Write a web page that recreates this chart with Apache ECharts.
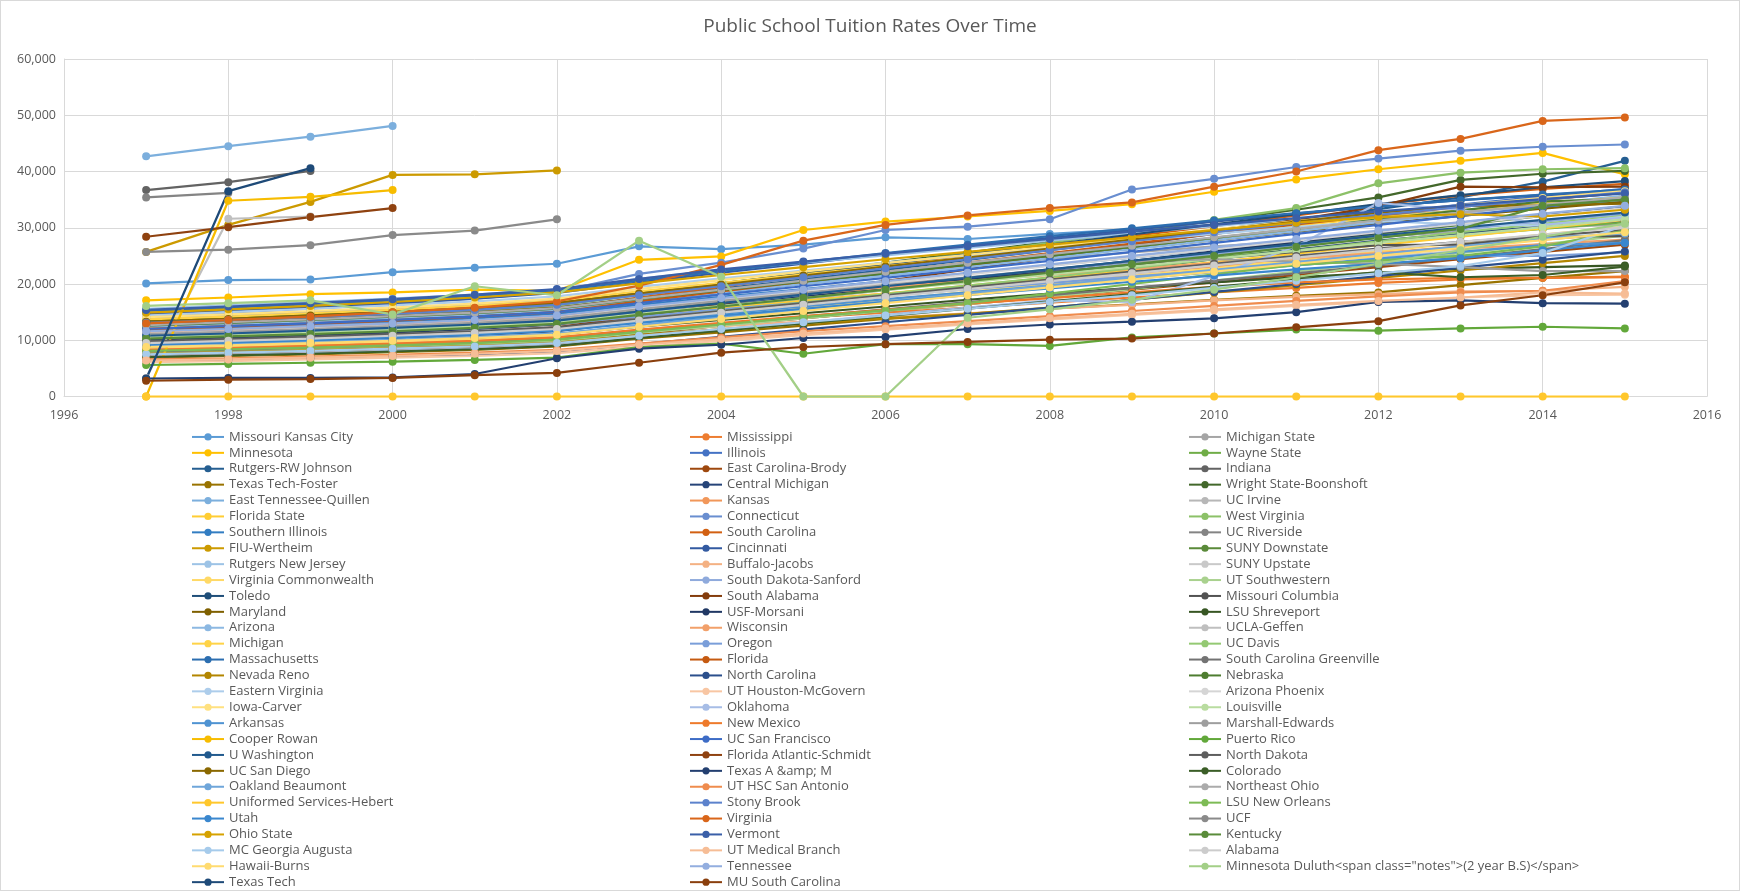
<!DOCTYPE html>
<html>
<head>
<meta charset="utf-8">
<title>Public School Tuition Rates Over Time</title>
<script src="https://cdn.jsdelivr.net/npm/echarts@6/dist/echarts.min.js"></script>
<style>
  html, body { margin: 0; padding: 0; background: #fff; }
  #chart { width: 1740px; height: 891px; box-sizing: border-box; border: 1px solid #d9d9d9; }
</style>
</head>
<body>
<div id="chart"></div>
<script>
var years = [1997, 1998, 1999, 2000, 2001, 2002, 2003, 2004, 2005, 2006, 2007, 2008, 2009, 2010, 2011, 2012, 2013, 2014, 2015];

var schools = [
	'Missouri Kansas City', 'Mississippi', 'Michigan State',
	'Minnesota', 'Illinois', 'Wayne State',
	'Rutgers-RW Johnson', 'East Carolina-Brody', 'Indiana',
	'Texas Tech-Foster', 'Central Michigan', 'Wright State-Boonshoft',
	'East Tennessee-Quillen', 'Kansas', 'UC Irvine',
	'Florida State', 'Connecticut', 'West Virginia',
	'Southern Illinois', 'South Carolina', 'UC Riverside',
	'FIU-Wertheim', 'Cincinnati', 'SUNY Downstate',
	'Rutgers New Jersey', 'Buffalo-Jacobs', 'SUNY Upstate',
	'Virginia Commonwealth', 'South Dakota-Sanford', 'UT Southwestern',
	'Toledo', 'South Alabama', 'Missouri Columbia',
	'Maryland', 'USF-Morsani', 'LSU Shreveport',
	'Arizona', 'Wisconsin', 'UCLA-Geffen',
	'Michigan', 'Oregon', 'UC Davis',
	'Massachusetts', 'Florida', 'South Carolina Greenville',
	'Nevada Reno', 'North Carolina', 'Nebraska',
	'Eastern Virginia', 'UT Houston-McGovern', 'Arizona Phoenix',
	'Iowa-Carver', 'Oklahoma', 'Louisville',
	'Arkansas', 'New Mexico', 'Marshall-Edwards',
	'Cooper Rowan', 'UC San Francisco', 'Puerto Rico',
	'U Washington', 'Florida Atlantic-Schmidt', 'North Dakota',
	'UC San Diego', 'Texas A &amp; M', 'Colorado',
	'Oakland Beaumont', 'UT HSC San Antonio', 'Northeast Ohio',
	'Uniformed Services-Hebert', 'Stony Brook', 'LSU New Orleans',
	'Utah', 'Virginia', 'UCF',
	'Ohio State', 'Vermont', 'Kentucky',
	'MC Georgia Augusta', 'UT Medical Branch', 'Alabama',
	'Hawaii-Burns', 'Tennessee', 'Minnesota Duluth<span class="notes">(2 year B.S)</span>',
	'Texas Tech', 'MU South Carolina'
];

// one row per school, 1997..2015, null = no figure that year
var tuition = [
	[20100, 20700, 20800, 22100, 22900, 23600, 26700, 26200, 27000, 28300, 28000, 28900, 29700, 30500, 31300, 32200, 33000, 33800, 34600],
	[8200, 8500, 8900, 9300, 9800, 10400, 11700, 12900, 14000, 14900, 15800, 16700, 17600, 18500, 19300, 20200, 20800, 21100, 21300],
	[13900, 14400, 15000, 15600, 16300, 17100, 18600, 19900, 21000, 22200, 23400, 24500, 25600, 26700, 27600, 28400, 29300, 30000, 30600],
	[17100, 17600, 18200, 18500, 19000, 18800, 24300, 24900, 29600, 31100, 32000, 33000, 34200, 36400, 38600, 40400, 41900, 43300, 39500],
	[12100, 12600, 13200, 13800, 14400, 15200, 16900, 18400, 20000, 21700, 23300, 25100, 27000, 28900, 30600, 32400, 34100, 35600, 36900],
	[11000, 11400, 11900, 12500, 13100, 13900, 15300, 16600, 17900, 19300, 20600, 22000, 23300, 24700, 26100, 27400, 28600, 29800, 31000],
	[12600, 13100, 13600, 14200, 14900, 15800, 17500, 19200, 20800, 22500, 24300, 26000, 27800, 29600, 31400, 33300, 35400, 38200, 41900],
	[7300, 7600, 8000, 8400, 8800, 9400, 11100, 12600, 13900, 15200, 16400, 17700, 19000, 20300, 21600, 23000, 24400, 25700, 27000],
	[36700, 38100, 40100, null, null, null, null, null, null, null, null, null, null, null, null, null, null, null, null],
	[6900, 7200, 7500, 7900, 8300, 8900, 10300, 11400, 12600, 13800, 14700, 15600, 16400, 17200, 17900, 18500, 19800, 21100, 22300],
	[9100, 9400, 9800, 10300, 10900, 11600, 13300, 14800, 16200, 17800, 19400, 21000, 22700, 24400, 26100, 27700, 29000, 30200, 31300],
	[13500, 14000, 14600, 15200, 15900, 16800, 18500, 20100, 21900, 23800, 25600, 27500, 29400, 31200, 33200, 35400, 38500, 39600, 40100],
	[42700, 44500, 46200, 48100, null, null, null, null, null, null, null, null, null, null, null, null, null, null, null],
	[10500, 10900, 11300, 11800, 12400, 13100, 14600, 15900, 17100, 18300, 19500, 20700, 21900, 23100, 24300, 25500, 26700, 27900, 29000],
	[9700, 10100, 10500, 11000, 11600, 12300, 14100, 15700, 17300, 18900, 20500, 22100, 23700, 25300, 26800, 28300, 29800, 31200, 32500],
	[10200, 10600, 11000, 11500, 12100, 12800, 14300, 15700, 17000, 18300, 19700, 21100, 22500, 23900, 25400, 26900, 28400, 29900, 31400],
	[14200, 14900, 15600, 16400, 17400, 18600, 21800, 23800, 26300, 29600, 30200, 31500, 36800, 38700, 40800, 42300, 43700, 44400, 44800],
	[12900, 13400, 14000, 14600, 15300, 16200, 18000, 19800, 21600, 23500, 25400, 27300, 29300, 31400, 33500, 37900, 39800, 40400, 40600],
	[11700, 12200, 12700, 13300, 13900, 14700, 16300, 17700, 19100, 20500, 21900, 23300, 24700, 26200, 27700, 29200, 30900, 32400, 33800],
	[12300, 12800, 13400, 14000, 14700, 15600, 17600, 19500, 21500, 23400, 25100, 26800, 28500, 30300, 32200, 34100, 35700, 36900, 37800],
	[35400, 36200, null, null, null, null, null, null, null, null, null, null, null, null, null, null, null, null, null],
	[25700, 30500, 34600, 39400, 39500, 40200, null, null, null, null, null, null, null, null, null, null, null, null, null],
	[14700, 15300, 15900, 16600, 17400, 18400, 20300, 22000, 23600, 25300, 26800, 28200, 29600, 31100, 32500, 33800, 34900, 35800, 36600],
	[10800, 11200, 11700, 12200, 12800, 13600, 15200, 16700, 18100, 19600, 21000, 22500, 24000, 25600, 27200, 28900, 30500, 32100, 33400],
	[15600, 16200, 16800, 17400, 18100, 19000, 20900, 22500, 23800, 25100, 26400, 27700, 29000, 30300, 31600, 32700, 33900, 35000, 36200],
	[8500, 8800, 9100, 9500, 9900, 10500, 11600, 12500, 13300, 14000, 14800, 15600, 16300, 17100, 17700, 18200, 18700, 18800, 19500],
	[9900, 10300, 10700, 11200, 11700, 12400, 13900, 15300, 16600, 17900, 19100, 20300, 21500, 22700, 23800, 24800, 25900, 26800, 27600],
	[8700, 9000, 9400, 9800, 10300, 10900, 12500, 14100, 15700, 17200, 18600, 20000, 21400, 22800, 24300, 25800, 27300, 28800, 30200],
	[10900, 11300, 11700, 12200, 12800, 13500, 15000, 16400, 17900, 19400, 20800, 22300, 23800, 25300, 26800, 28300, 29700, 31100, 32400],
	[7800, 8100, 8400, 8800, 9300, 9900, 11300, 12600, 13900, 15200, 16400, 17700, 19100, 20600, 22200, 23900, 25500, 27100, 28600],
	[13200, 13700, 14300, 14900, 15600, 16500, 18300, 20100, 21800, 23500, 25300, 27000, 28800, 30600, 32400, 34200, 35800, 37200, 38300],
	[9600, 10000, 10400, 10900, 11500, 12300, 14300, 16400, 18500, 20500, 22600, 24700, 26900, 29100, 31400, 33800, 37300, 37200, 37300],
	[11300, 11700, 12200, 12700, 13300, 14100, 15600, 17000, 18300, 19600, 20900, 22100, 23300, 24500, 25700, 26900, 27000, 28400, 28500],
	[12800, 13300, 13800, 14400, 15000, 15800, 17400, 18900, 20400, 21900, 23300, 24800, 26300, 27800, 29300, 30700, 32100, 33400, 34600],
	[10100, 10500, 10900, 11400, 12000, 12800, 14500, 16100, 17700, 19300, 20900, 22500, 24100, 25800, 27500, 29100, 30700, 32200, 33600],
	[8900, 9200, 9600, 10000, 10500, 11100, 12400, 13600, 14800, 16000, 17200, 18300, 19300, 20300, 21200, 22000, 22700, 23000, 23300],
	[12400, 12900, 13400, 14000, 14600, 15400, 17000, 18500, 20000, 21500, 23000, 24600, 26200, 27800, 29400, 31000, 32600, 34200, 35700],
	[11500, 11900, 12400, 12900, 13500, 14300, 15700, 17000, 18200, 19400, 20500, 21600, 22700, 23700, 24600, 25500, 26300, 27100, 27900],
	[3300, 31600, 32000, null, null, null, null, null, null, null, null, null, null, null, null, null, null, null, null],
	[13700, 14200, 14800, 15400, 16100, 17000, 18700, 20200, 21700, 23200, 24700, 26200, 27600, 29000, 30400, 31800, 33100, 34300, 35400],
	[10400, 10800, 11200, 11700, 12200, 12900, 14200, 15500, 16700, 17900, 19100, 20200, 21300, 22400, 23400, 24300, 25000, 25000, 25600],
	[9400, 9800, 10200, 10700, 11300, 12000, 13700, 15200, 16700, 18200, 19700, 21200, 22800, 24400, 26000, 27600, 29200, 30700, 32100],
	[15200, 15800, 16400, 17100, 17900, 18800, 20600, 22300, 23900, 25500, 27000, 28500, 29900, 31300, 32600, 33800, 34900, 35900, 36800],
	[11900, 12400, 12900, 13500, 14200, 15000, 16900, 18700, 20400, 22100, 23800, 25500, 27200, 28900, 30600, 32200, 33700, 35000, 36200],
	[8000, 8300, 8700, 9100, 9600, 10200, 11600, 12900, 14200, 15500, 16800, 18000, 19300, 20600, 21900, 23300, 24700, 26200, 27800],
	[7600, 7900, 8200, 8600, 9000, 9600, 10900, 12000, 13000, 13900, 14700, 15800, 17200, 18500, 19800, 21100, 22400, 23700, 25000],
	[6300, 6500, 6800, 7100, 7500, 8000, 9300, 10600, 11900, 13200, 14500, 15800, 17200, 18600, 20000, 21400, 22900, 24300, 25800],
	[12600, 13100, 13600, 14200, 14800, 15600, 17300, 18900, 20400, 21900, 23500, 25000, 26600, 28200, 29800, 31500, 33100, 34700, 35100],
	[14400, 15000, 15600, 16200, 16900, 17800, 19500, 21000, 22400, 23800, 25100, 26400, 27700, 28900, 30100, 31200, 30600, 30400, 32000],
	[6100, 6300, 6600, 6900, 7200, 7700, 8800, 9900, 10900, 11900, 12800, 13700, 14500, 15300, 16100, 16800, 17600, 18000, 18100],
	[11200, 11600, 12100, 12600, 13200, 14000, 15700, 17200, 18700, 20200, 21700, 23200, 24700, 26200, 27700, 29200, 30700, 32100, 33500],
	[14100, 14600, 15200, 15800, 16500, 17400, 19100, 20700, 22200, 23700, 25200, 26700, 28200, 29700, 31200, 32600, 34000, 35300, 36500],
	[7100, 7400, 7700, 8100, 8500, 9100, 10500, 11900, 13200, 14500, 15800, 17100, 16800, 21400, 26700, 34400, 33200, 30500, 31800],
	[10600, 11000, 11400, 11900, 12500, 13200, 14700, 16100, 17500, 18900, 20300, 21700, 23100, 24500, 25900, 27300, 28700, 30100, 31500],
	[9300, 9700, 10100, 10600, 11100, 11800, 13300, 14700, 16000, 17300, 18500, 19700, 20900, 22100, 23300, 24500, 25700, 26900, 27300],
	[8300, 8600, 9000, 9400, 9900, 10500, 11900, 13100, 14300, 15400, 16500, 17500, 18500, 19500, 20300, 20800, 21100, 21100, 21200],
	[11100, 11500, 12000, 12500, 13100, 13900, 15500, 17000, 18400, 19800, 21200, 22600, 24000, 24400, 24000, 23600, 23000, 22300, 22300],
	[0, 34800, 35500, 36700, null, null, null, null, null, null, null, null, null, null, null, null, null, null, null],
	[12000, 12500, 13000, 13600, 14200, 15000, 16600, 18100, 19600, 21100, 22600, 24100, 25700, 27300, 28900, 30500, 32100, 33700, 35200],
	[5600, 5800, 6000, 6200, 6500, 6900, 8800, 9400, 7600, 9300, 9300, 9000, 10500, 11200, 11900, 11700, 12100, 12400, 12100],
	[10800, 11200, 11700, 12200, 12800, 13500, 15100, 16600, 18100, 19600, 21100, 22600, 24100, 25600, 27100, 28600, 30000, 31400, 32700],
	[28400, 30100, 31900, 33500, null, null, null, null, null, null, null, null, null, null, null, null, null, null, null],
	[9800, 10200, 10600, 11100, 11600, 12300, 13800, 15200, 16600, 18000, 19400, 20800, 22200, 23600, 25000, 26300, 27500, 28500, 29600],
	[13300, 13800, 14400, 15000, 15700, 16600, 18300, 19900, 21500, 23100, 24700, 26300, 27900, 29500, 31100, 32700, 33900, 34000, 34300],
	[3200, 3300, 3300, 3400, 4000, 6800, 8500, 9200, 10400, 10600, 12000, 12800, 13300, 13900, 15000, 16800, 17100, 16600, 16500],
	[7000, 7300, 7600, 8000, 8400, 9000, 10400, 11700, 13000, 14300, 15600, 16900, 18200, 19500, 20800, 22100, 21200, 21600, 23100],
	[9000, 9300, 9700, 10100, 10600, 11200, 12700, 14100, 15500, 16900, 18300, 19700, 21100, 22500, 23900, 25300, 26700, 28100, 29000],
	[6600, 6800, 7100, 7400, 7800, 8300, 9400, 10500, 11600, 12500, 13400, 14300, 15200, 16100, 17000, 17800, 18500, 18800, 20500],
	[12700, 13200, 13700, 14300, 14900, 15700, 17400, 19000, 20600, 22200, 23800, 25300, 26800, 28300, 29800, 31300, 32700, 34100, 35400],
	[0, 0, 0, 0, 0, 0, 0, 0, 0, 0, 0, 0, 0, 0, 0, 0, 0, 0, 0],
	[13100, 13600, 14100, 14700, 15400, 16300, 18000, 19600, 21200, 22800, 24400, 26000, 27600, 29200, 30800, 32300, 33700, 35000, 36300],
	[8100, 8400, 8700, 9100, 9500, 10100, 11500, 12800, 14100, 15300, 16600, 18300, 20000, 21700, 23400, 24200, 25000, 26700, 29500],
	[9200, 9600, 10000, 10500, 11000, 11700, 13100, 14400, 15600, 16800, 18000, 19200, 20400, 21500, 22600, 23600, 24600, 26000, 27300],
	[13000, 13600, 14200, 15000, 15800, 16900, 19700, 23400, 27700, 30500, 32200, 33500, 34500, 37300, 40000, 43800, 45800, 49000, 49600],
	[25700, 26100, 26900, 28700, 29500, 31500, null, null, null, null, null, null, null, null, null, null, null, null, null],
	[14900, 15500, 16100, 16800, 17600, 18500, 20100, 21600, 23000, 24400, 25700, 27000, 28300, 29600, 30900, 31900, 32400, 32000, 33200],
	[15400, 16000, 16600, 17300, 18100, 19100, 20900, 22600, 24000, 25400, 26700, 28000, 29300, 30500, 31700, 32900, 34000, 35100, 36100],
	[10300, 10700, 11100, 11600, 12200, 12900, 14500, 16000, 17500, 19000, 20500, 22000, 23500, 25000, 26600, 28200, 29800, 33900, 35000],
	[7500, 7800, 8100, 8500, 8900, 9500, 10800, 12000, 13200, 14400, 15600, 16800, 18000, 19300, 20600, 21900, 23200, 25500, 30400],
	[6400, 6600, 6900, 7200, 7600, 8100, 9200, 10200, 11200, 12100, 13000, 13900, 14700, 15500, 16300, 17000, 17600, 18500, 18300],
	[9500, 9900, 10300, 10800, 11300, 12000, 13500, 14900, 16300, 17700, 19100, 20500, 21900, 23300, 24700, 26100, 27500, 28800, 30100],
	[8800, 9100, 9500, 9900, 10400, 11000, 12400, 13800, 15200, 16600, 18000, 19400, 20800, 22200, 23600, 25000, 26400, 27800, 29200],
	[11600, 12000, 12500, 13000, 13600, 14400, 16000, 17500, 19000, 20500, 22000, 23500, 25000, 26500, 28000, 29500, 31000, 32500, 33900],
	[16100, 16600, 17100, 14600, 19600, 18000, 27700, 21300, 0, 0, 14000, 15500, 17200, 19000, 21200, 23600, 26000, 28400, 30700],
	[3100, 36500, 40600, null, null, null, null, null, null, null, null, null, null, null, null, null, null, null, null],
	[2800, 3000, 3100, 3300, 3800, 4200, 6000, 7800, 8800, 9300, 9700, 10100, 10300, 11200, 12300, 13400, 16200, 18000, 20300]
];

var colors = [
	'#5B9BD5', '#ED7D31', '#A5A5A5', '#FFC000', '#4472C4', '#70AD47',
	'#255E91', '#9E480E', '#636363', '#997300', '#264478', '#43682B',
	'#7CAFDD', '#F1975A', '#B7B7B7', '#FFCD33', '#698ED0', '#8CC168',
	'#327DC2', '#D26012', '#848484', '#CC9A00', '#335AA1', '#5A8A39',
	'#9DC3E6', '#F4B183', '#C9C9C9', '#FFD966', '#8FAADC', '#A9D18E',
	'#1F4E79', '#843C0C', '#525252', '#7F6000', '#203864', '#375623',
	'#8CB8E2', '#F2A06A', '#BFBFBF', '#FFD347', '#7A9ED9', '#94C973',
	'#2C6EB0', '#C55A11', '#737373', '#B38600', '#2B4F8C', '#4E7D30',
	'#ADCDEB', '#F8C6A3', '#D5D5D5', '#FFE180', '#A7BDE6', '#B9DCA0',
	'#4F93D2', '#EE7A2B', '#9E9E9E', '#F7BC00', '#3D6CC6', '#62A83A',
	'#215A8E', '#8F4210', '#5E5E5E', '#8A6800', '#233F70', '#3B5E27',
	'#6FA6DA', '#EF8C4E', '#ABABAB', '#FFC72C', '#5C82CC', '#7DBB55',
	'#3A87CE', '#D9661A', '#8A8A8A', '#D6A200', '#3A5FA8', '#5A8C3A',
	'#A6CBEB', '#F6BD96', '#CCCCCC', '#FFDB70', '#93AEDF', '#A3CF87',
	'#1E4A78', '#8A3F0D'
];

var legendLeft = [190, 688, 1187];

var FONT = '"Open Sans", "Noto Sans", sans-serif';
var TEXT_COLOR = '#595959';
var GRID_COLOR = '#d9d9d9';

function pairUp(row) {
	var out = [];
	for (var i = 0; i < years.length; i++) {
		out.push([years[i], row[i] === null ? '-' : row[i]]);
	}
	return out;
}

function thousand(val) {
	return String(val).replace(/\B(?=(\d{3})+(?!\d))/g, ',');
}

function plainYear(val) {
	return String(val);
}

function buildSeries() {
	var list = [];
	for (var i = 0; i < schools.length; i++) {
		list.push({
			name: schools[i],
			type: 'line',
			data: pairUp(tuition[i]),
			symbol: 'circle',
			symbolSize: 8,
			showSymbol: true,
			connectNulls: false,
			itemStyle: { color: colors[i] },
			lineStyle: { color: colors[i], width: 2.25 },
			emphasis: { disabled: true }
		});
	}
	return list;
}

// excel lists the legend row by row, so column c holds every third school
function buildLegends() {
	var legends = [];
	for (var c = 0; c < 3; c++) {
		var names = [];
		for (var i = c; i < schools.length; i += 3) {
			names.push(schools[i]);
		}
		legends.push({
			data: names,
			orient: 'vertical',
			left: legendLeft[c],
			top: 428,
			height: 470,
			padding: 0,
			itemWidth: 32,
			itemHeight: 9,
			itemGap: 0,
			selectedMode: false,
			textStyle: { color: TEXT_COLOR, fontSize: 13, fontFamily: FONT, lineHeight: 15.9 }
		});
	}
	return legends;
}

var chart = echarts.init(document.getElementById('chart'), null, { renderer: 'canvas' });

chart.setOption({
	animation: false,
	backgroundColor: '#ffffff',
	title: {
		text: 'Public School Tuition Rates Over Time',
		left: 'center',
		top: 11,
		textStyle: { color: TEXT_COLOR, fontSize: 19, fontWeight: 'normal', fontFamily: FONT }
	},
	legend: buildLegends(),
	grid: { left: 63, right: 32, top: 58, bottom: 493.5, containLabel: false },
	xAxis: {
		type: 'value',
		min: 1996,
		max: 2016,
		interval: 2,
		axisLine: { show: true, lineStyle: { color: GRID_COLOR } },
		axisTick: { show: false },
		axisLabel: { color: TEXT_COLOR, fontSize: 12.5, fontFamily: FONT, margin: 12, formatter: plainYear },
		splitLine: { show: true, lineStyle: { color: GRID_COLOR, width: 1 } }
	},
	yAxis: {
		type: 'value',
		min: 0,
		max: 60000,
		interval: 10000,
		axisLine: { show: true, lineStyle: { color: GRID_COLOR } },
		axisTick: { show: false },
		axisLabel: { color: TEXT_COLOR, fontSize: 12.5, fontFamily: FONT, margin: 8, formatter: thousand },
		splitLine: { show: true, lineStyle: { color: GRID_COLOR, width: 1 } }
	},
	tooltip: { show: false },
	series: buildSeries()
});
</script>
</body>
</html>
